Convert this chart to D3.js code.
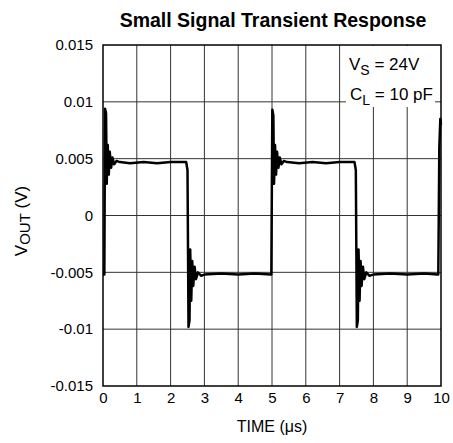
<!DOCTYPE html>
<html>
<head>
<meta charset="utf-8">
<script src="https://cdn.jsdelivr.net/npm/d3@7"></script>
<style>
  body { margin: 0; background: #fff; }
  svg { display: block; font-family: "Liberation Sans", Arial, sans-serif; }
</style>
</head>
<body>
<svg id="chart" width="453" height="443"></svg>
<script>
// ---- data ----
const title = "Small Signal Transient Response";
const xTicks = [0, 1, 2, 3, 4, 5, 6, 7, 8, 9, 10];
const yTicks = [-0.015, -0.01, -0.005, 0, 0.005, 0.01, 0.015];
const yTickLabels = ["-0.015", "-0.01", "-0.005", "0", "0.005", "0.01", "0.015"];
// time (µs), VOUT (V)
const timeUs = [
  0.00, 0.04, 0.06, 0.09, 0.11, 0.14, 0.17, 0.20, 0.24, 0.28, 0.33, 0.40, 0.50, 0.80, 1.20, 1.60, 2.00, 2.44,
  2.46, 2.50, 2.53, 2.56, 2.58, 2.61, 2.64, 2.67, 2.71, 2.75, 2.81, 2.90, 3.00, 3.50, 4.00, 4.50, 4.96,
  4.98, 5.01, 5.04, 5.06, 5.09, 5.12, 5.15, 5.19, 5.23, 5.28, 5.35, 5.45, 5.80, 6.20, 6.60, 7.00, 7.42,
  7.44, 7.48, 7.51, 7.54, 7.56, 7.59, 7.62, 7.65, 7.69, 7.73, 7.79, 7.88, 8.00, 8.50, 9.00, 9.50, 9.90,
  9.92, 9.95, 9.98, 10.00
];
const vout = [
  -0.0052, -0.0052, 0.0094, 0.0090, 0.0028, 0.0062, 0.0036, 0.0056, 0.0042, 0.0051, 0.0045, 0.0048, 0.0047, 0.0046, 0.0047, 0.0046, 0.0047, 0.0047,
  0.0047, 0.0040, -0.0098, -0.0092, -0.0030, -0.0075, -0.0040, -0.0062, -0.0045, -0.0056, -0.0050, -0.0053, -0.0052, -0.0051, -0.0052, -0.0051, -0.0052,
  -0.0052, 0.0093, 0.0088, 0.0028, 0.0062, 0.0036, 0.0056, 0.0042, 0.0051, 0.0045, 0.0048, 0.0047, 0.0046, 0.0047, 0.0046, 0.0047, 0.0047,
  0.0047, 0.0040, -0.0098, -0.0092, -0.0030, -0.0075, -0.0040, -0.0062, -0.0045, -0.0056, -0.0050, -0.0053, -0.0052, -0.0051, -0.0052, -0.0051, -0.0052,
  -0.0052, 0.0060, 0.0085, 0.0080
];

// ---- layout ----
const svg = d3.select("#chart");
const L = 103, R = 441, T = 45, B = 386;
const x = d3.scaleLinear().domain([0, 10]).range([L, R]);
const y = d3.scaleLinear().domain([-0.015, 0.015]).range([B, T]);

// grid
const g = svg.append("g");
g.selectAll(".vg").data(xTicks.slice(1, -1)).enter().append("line")
  .attr("x1", d => x(d)).attr("x2", d => x(d)).attr("y1", T).attr("y2", B)
  .attr("stroke", "#333").attr("stroke-width", 1);
g.selectAll(".hg").data(yTicks.slice(1, -1)).enter().append("line")
  .attr("x1", L).attr("x2", R).attr("y1", d => y(d)).attr("y2", d => y(d))
  .attr("stroke", "#333").attr("stroke-width", 1);

// annotation background
svg.append("rect").attr("x", 346).attr("y", T + 1).attr("width", 89).attr("height", 61).attr("fill", "#fff");

// waveform
const pts = timeUs.map((t, i) => [t, vout[i]]);
svg.append("path").datum(pts)
  .attr("d", d3.line().x(d => x(d[0])).y(d => y(d[1])))
  .attr("fill", "none").attr("stroke", "#000").attr("stroke-width", 2.5)
  .attr("stroke-linejoin", "round");

// frame
svg.append("rect").attr("x", L).attr("y", T).attr("width", R - L).attr("height", B - T)
  .attr("fill", "none").attr("stroke", "#000").attr("stroke-width", 1.5);

// axes tick labels
const xAxis = d3.axisBottom(x).tickValues(xTicks).tickSize(0).tickPadding(6);
const xa = svg.append("g").attr("transform", `translate(0,${B})`).call(xAxis);
xa.select(".domain").remove();
xa.selectAll("text").attr("font-size", 15).attr("fill", "#000").attr("font-family", "Liberation Sans, Arial, sans-serif");

const yAxis = d3.axisLeft(y).tickValues(yTicks).tickFormat((d, i) => yTickLabels[i]).tickSize(0).tickPadding(10);
const ya = svg.append("g").attr("transform", `translate(${L},0)`).call(yAxis);
ya.select(".domain").remove();
ya.selectAll("text").attr("font-size", 15).attr("fill", "#000").attr("font-family", "Liberation Sans, Arial, sans-serif");

// title
svg.append("text").attr("x", 273).attr("y", 27).attr("text-anchor", "middle")
  .attr("font-size", 19.5).attr("font-weight", "bold").text(title);

// x label
svg.append("text").attr("x", 272).attr("y", 432).attr("text-anchor", "middle")
  .attr("font-size", 16).text("TIME (μs)");

// y label
const yl = svg.append("text").attr("transform", "translate(27,221) rotate(-90)")
  .attr("text-anchor", "middle").attr("font-size", 17);
yl.append("tspan").text("V");
yl.append("tspan").attr("font-size", 15).attr("dy", 3).text("OUT");
yl.append("tspan").attr("dy", -3).text(" (V)");

// annotations
const a1 = svg.append("text").attr("x", 349).attr("y", 70).attr("font-size", 17);
a1.append("tspan").text("V");
a1.append("tspan").attr("font-size", 14).attr("dy", 5).text("S");
a1.append("tspan").attr("dy", -5).text(" = 24V");
const a2 = svg.append("text").attr("x", 350).attr("y", 100).attr("font-size", 17);
a2.append("tspan").text("C");
a2.append("tspan").attr("font-size", 14).attr("dy", 5).text("L");
a2.append("tspan").attr("dy", -5).text(" = 10 pF");
</script>
</body>
</html>
